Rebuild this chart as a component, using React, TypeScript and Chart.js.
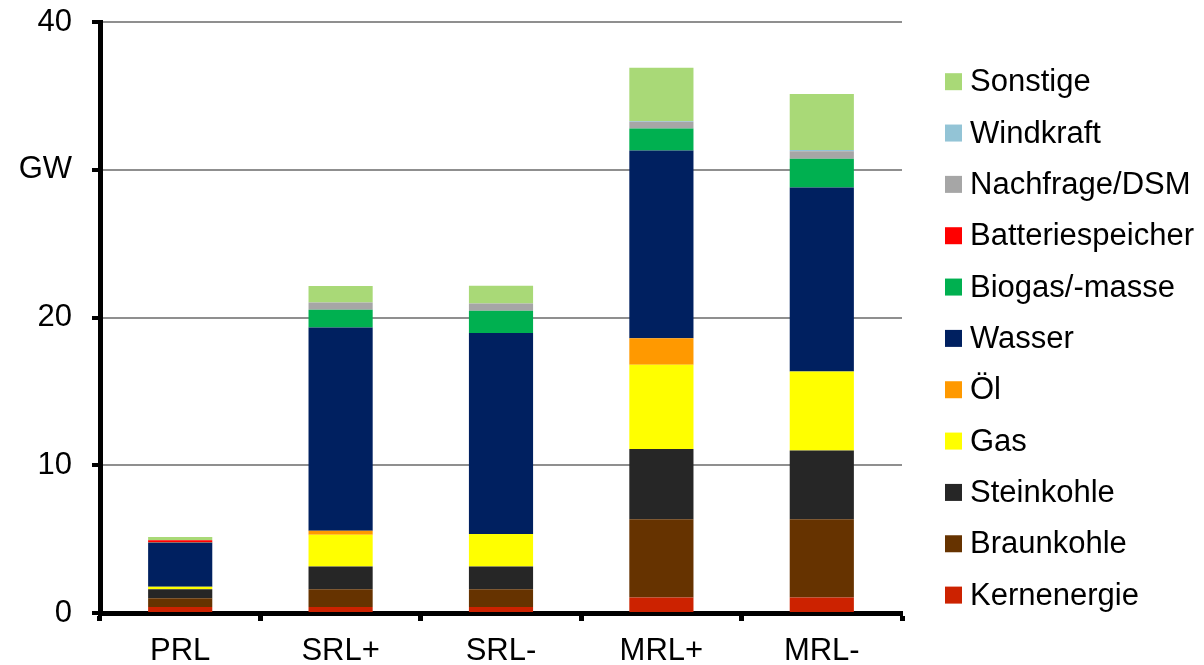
import React, { useEffect, useRef } from "react";
import { Chart, registerables } from "chart.js";

Chart.register(...registerables);

const categories = ["PRL", "SRL+", "SRL-", "MRL+", "MRL-"];

const kernenergie = [0.4, 0.4, 0.4, 1.05, 1.05];
const braunkohle = [0.6, 1.2, 1.2, 5.3, 5.3];
const steinkohle = [0.6, 1.55, 1.55, 4.75, 4.65];
const gas = [0.18, 2.15, 2.2, 5.7, 5.35];
const oel = [0, 0.27, 0, 1.8, 0];
const wasser = [2.98, 13.75, 13.6, 12.7, 12.45];
const biogas = [0.02, 1.2, 1.5, 1.5, 1.95];
const batterie = [0.14, 0, 0, 0, 0];
const nachfrage = [0, 0.5, 0.5, 0.45, 0.5];
const windkraft = [0, 0, 0, 0.05, 0.08];
const sonstige = [0.22, 1.12, 1.2, 3.6, 3.8];

const yTickValues = [0, 10, 20, 30, 40];
const yTickLabels = ["0", "10", "20", "GW", "40"];

const series = [
  { label: "Kernenergie", data: kernenergie, color: "#CC2200" },
  { label: "Braunkohle", data: braunkohle, color: "#663300" },
  { label: "Steinkohle", data: steinkohle, color: "#262626" },
  { label: "Gas", data: gas, color: "#FFFF00" },
  { label: "Öl", data: oel, color: "#FF9900" },
  { label: "Wasser", data: wasser, color: "#002060" },
  { label: "Biogas/-masse", data: biogas, color: "#00B050" },
  { label: "Batteriespeicher", data: batterie, color: "#FF0000" },
  { label: "Nachfrage/DSM", data: nachfrage, color: "#A6A6A6" },
  { label: "Windkraft", data: windkraft, color: "#93C4D6" },
  { label: "Sonstige", data: sonstige, color: "#A9D977" },
];

const FONT = "'Liberation Sans', Arial, sans-serif";

const legendPlugin = {
  id: "customLegend",
  afterDraw(chart: any) {
    const ctx = chart.ctx;
    const ds = chart.data.datasets.slice().reverse();
    const boxX = 945;
    const box = 17;
    const textX = 970;
    const startY = 81.7;
    const step = 51.34;
    ctx.save();
    ctx.font = `31px ${FONT}`;
    ctx.textBaseline = "middle";
    ctx.textAlign = "left";
    ds.forEach((d: any, i: number) => {
      const cy = startY + i * step;
      ctx.fillStyle = d.backgroundColor;
      ctx.fillRect(boxX, cy - box / 2, box, box);
      ctx.fillStyle = "#000";
      ctx.fillText(d.label, textX, cy + 1);
    });
    ctx.restore();
  },
};

export default function App() {
  const ref = useRef<HTMLCanvasElement | null>(null);
  useEffect(() => {
    document.body.style.margin = "0";
    if (!ref.current) return;
    const chart = new Chart(ref.current, {
      type: "bar",
      data: {
        labels: categories,
        datasets: series.map((s) => ({
          label: s.label,
          data: s.data,
          backgroundColor: s.color,
          borderWidth: 0,
          barPercentage: 0.4,
          categoryPercentage: 1,
        })),
      },
      options: {
        animation: false,
        responsive: false,
        maintainAspectRatio: false,
        layout: { padding: { left: 0, right: 302, top: 22, bottom: 0 } },
        plugins: {
          legend: { display: false },
          tooltip: { enabled: false },
          title: { display: false },
        },
        scales: {
          x: {
            stacked: true,
            offset: true,
            grid: {
              offset: true,
              drawOnChartArea: false,
              drawTicks: true,
              tickLength: 8,
              tickColor: "#000",
              tickWidth: 5,
            },
            border: { display: true, color: "#000", width: 5 },
            ticks: {
              color: "#000",
              font: { family: FONT, size: 31 },
              padding: 12,
              maxRotation: 0,
            },
            afterFit(scale: any) {
              scale.height = 52;
              scale.paddingLeft = 0;
              scale.paddingRight = 0;
            },
          },
          y: {
            stacked: true,
            min: 0,
            max: 40,
            afterBuildTicks(scale: any) {
              scale.ticks = yTickValues.map((v) => ({ value: v }));
            },
            grid: {
              color: "#8F8F8F",
              lineWidth: 2,
              drawTicks: true,
              tickLength: 8,
              tickColor: "#000",
              tickWidth: 4,
            },
            border: { display: true, color: "#000", width: 5 },
            ticks: {
              color: "#000",
              font: { family: FONT, size: 31 },
              padding: 20,
              callback: (v: any) => {
                const i = yTickValues.indexOf(Number(v));
                return i >= 0 ? yTickLabels[i] : "";
              },
            },
            afterFit(scale: any) {
              scale.width = 100;
              scale.paddingTop = 0;
              scale.paddingBottom = 0;
            },
          },
        },
      },
      plugins: [legendPlugin],
    });
    return () => chart.destroy();
  }, []);
  return (
    <div style={{ position: "fixed", left: 0, top: 0, width: 1204, height: 665, background: "#fff" }}>
      <canvas ref={ref} width={1204} height={665} style={{ width: 1204, height: 665 }} />
    </div>
  );
}
